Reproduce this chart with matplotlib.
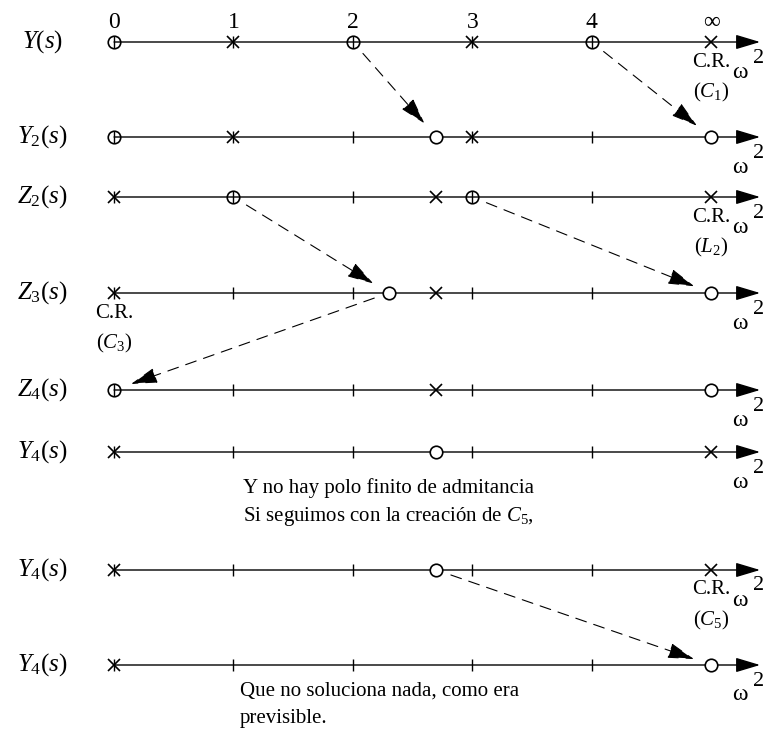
import matplotlib
matplotlib.use('Agg')
import matplotlib.pyplot as plt

plt.rcParams['font.family'] = ['Liberation Serif', 'DejaVu Serif']
plt.rcParams['mathtext.fontset'] = 'custom'
plt.rcParams['mathtext.rm'] = 'Liberation Serif'
plt.rcParams['mathtext.it'] = 'Liberation Serif:italic'

# omega^2 positions: 0..4 and infinity (drawn at 5)
tick_pos = [0, 1, 2, 3, 4]
top_pos = [0, 1, 2, 3, 4, 5]
top_labels = ['0', '1', '2', '3', '4', '∞']

row_labels = [r'$Y(s)$', r'$Y_2(s)$', r'$Z_2(s)$', r'$Z_3(s)$',
              r'$Z_4(s)$', r'$Y_4(s)$', r'$Y_4(s)$', r'$Y_4(s)$']
zeros = [[0, 2, 4], [0, 2.7, 5], [1, 3], [2.3, 5], [0, 5], [2.7], [2.7], [5]]
poles = [[1, 3, 5], [1, 3], [0, 2.7, 5], [0, 2.7], [2.7], [0, 5], [0, 5], [0]]

# (row from, position from, row to, position to)
moves = [(0, 2, 1, 2.7), (0, 4, 1, 5), (2, 1, 3, 2.3),
         (2, 3, 3, 5), (3, 2.3, 4, 0), (6, 2.7, 7, 5)]
# complete removals: (row, position, element)
removals = [(0, 5, r'$(C_1)$'), (2, 5, r'$(L_2)$'),
            (3, 0, r'$(C_3)$'), (6, 5, r'$(C_5)$')]

notes_mid = ['Y no hay polo finito de admitancia',
             r'Si seguimos con la creación de $C_5$,']
notes_end = ['Que no soluciona nada, como era', 'previsible.']

# layout (vertical position of each row, in pixels from top)
row_y = [42, 137, 197, 293, 390, 452, 570, 665]

fig = plt.figure(figsize=(7.66, 7.35), dpi=100)
ax = fig.add_axes([0, 0, 1, 1])
ax.set_xlim(-0.955, 5.46)
ax.set_ylim(735, 0)
ax.axis('off')

fs = 15
for i, y in enumerate(row_y):
    ax.annotate('', xy=(5.41, y), xytext=(0, y),
                arrowprops=dict(arrowstyle='-|>,head_length=1.0,head_width=0.3',
                                lw=1.0, color='k', shrinkA=0, shrinkB=0,
                                mutation_scale=15))
    ax.vlines(tick_pos, y - 6, y + 6, color='k', lw=1.0)
    ax.text(-0.6, y, row_labels[i], fontsize=18, ha='center', va='center')
    ax.text(5.245, y + 30, 'ω', fontsize=17, ha='center', va='center')
    ax.text(5.395, y + 16, '2', fontsize=16, ha='center', va='center')
    for z in zeros[i]:
        fc = 'none' if z in tick_pos else 'white'
        ax.plot(z, y, 'o', ms=9, mfc=fc, mec='k', mew=1.2, zorder=4)
    ax.plot(poles[i], [y] * len(poles[i]), 'x', ms=8.5, color='k', mew=1.2, zorder=4)

for p, lab in zip(top_pos, top_labels):
    ax.text(p, 22, lab, fontsize=17, ha='center', va='center')

for r, p, el in removals:
    y = row_y[r]
    ax.text(p, y + 20, 'C.R.', fontsize=fs, ha='center', va='center')
    ax.text(p, y + 50, el, fontsize=fs, ha='center', va='center')

for r0, p0, r1, p1 in moves:
    ax.annotate('', xy=(p1, row_y[r1]), xytext=(p0, row_y[r0]),
                arrowprops=dict(arrowstyle='-|>,head_length=1.1,head_width=0.32',
                                lw=0.8, ls=(0, (10, 7)), color='k',
                                shrinkA=11, shrinkB=13, mutation_scale=15))

ax.text(1.08, 488, notes_mid[0], fontsize=fs, ha='left', va='center')
ax.text(1.08, 516, notes_mid[1], fontsize=fs, ha='left', va='center')
ax.text(1.055, 691, notes_end[0], fontsize=fs, ha='left', va='center')
ax.text(1.055, 718, notes_end[1], fontsize=fs, ha='left', va='center')

fig.savefig('out.png', dpi=100)
